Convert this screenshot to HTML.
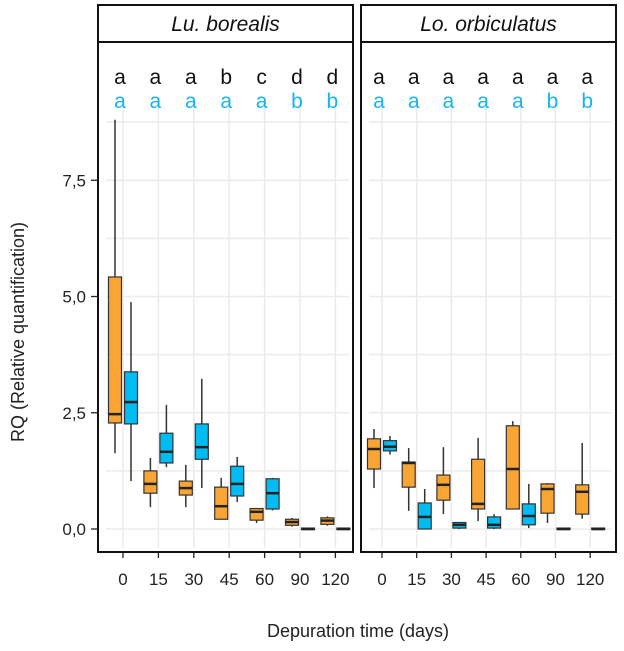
<!DOCTYPE html>
<html><head><meta charset="utf-8"><style>
body{margin:0;background:#fff;width:624px;height:646px;overflow:hidden;font-family:"Liberation Sans",sans-serif}
</style></head><body>
<svg id="chart" width="624" height="646" xmlns="http://www.w3.org/2000/svg"></svg>
<script>
const days=["0","15","30","45","60","90","120"];
const panelTitles=["Lu. borealis","Lo. orbiculatus"];
const lettersBlack1=["a","a","a","b","c","d","d"];
const lettersBlue1=["a","a","a","a","a","b","b"];
const lettersBlack2=["a","a","a","a","a","a","a"];
const lettersBlue2=["a","a","a","a","a","b","b"];
// [low, q1, median, q3, high]
const borealisOrange=[[1.63,2.28,2.47,5.42,8.8],[0.47,0.77,0.97,1.25,1.53],[0.47,0.73,0.88,1.03,1.38],[0.21,0.21,0.49,0.9,1.1],[0.13,0.19,0.37,0.44,0.45],[0.05,0.08,0.15,0.21,0.24],[0.07,0.1,0.18,0.24,0.27]];
const borealisBlue=[[1.03,2.26,2.73,3.38,4.88],[1.33,1.42,1.66,2.06,2.67],[0.88,1.5,1.76,2.26,3.23],[0.58,0.71,0.97,1.35,1.55],[0.4,0.43,0.77,1.08,1.1],[-0.02,-0.01,0.0,0.02,0.03],[-0.02,-0.01,0.0,0.02,0.03]];
const orbicOrange=[[0.88,1.29,1.72,1.94,2.15],[0.39,0.9,1.42,1.44,1.74],[0.32,0.62,0.95,1.16,1.76],[0.17,0.43,0.54,1.5,1.96],[0.43,0.43,1.29,2.22,2.32],[0.13,0.34,0.86,0.97,0.99],[0.22,0.32,0.8,0.95,1.85]];
const orbicBlue=[[1.6,1.68,1.77,1.9,2.0],[0,0,0.26,0.56,0.86],[0,0.02,0.09,0.14,0.15],[0,0.02,0.09,0.26,0.32],[0.02,0.09,0.28,0.54,0.97],[-0.02,-0.01,0.0,0.02,0.03],[-0.02,-0.01,0.0,0.02,0.03]];
const yTicks=[0,2.5,5,7.5];
const yTickLabels=["0,0","2,5","5,0","7,5"];

const NS="http://www.w3.org/2000/svg";
const svg=document.getElementById('chart');
function mk(tag,attrs,parent,text){const e=document.createElementNS(NS,tag);for(const k in attrs)e.setAttribute(k,attrs[k]);if(text!==undefined)e.textContent=text;(parent||svg).appendChild(e);return e;}
const yScale=v=>529-v*46.5;
const panels=[{x0:98,x1:353,first:123,step:35.4,o:borealisOrange,b:borealisBlue,lk:lettersBlack1,lb:lettersBlue1},
              {x0:361,x1:616,first:382,step:34.7,o:orbicOrange,b:orbicBlue,lk:lettersBlack2,lb:lettersBlue2}];
const panelTop=42,panelBottom=552;
function box(g,cx,d,fill,name){
  const w=13;
  const bg=mk('g',{},g);
  
  
  mk('line',{x1:cx,x2:cx,y1:yScale(d[4]),y2:yScale(d[0]),stroke:'#333','stroke-width':1.5},bg);
  mk('rect',{x:cx-w/2,y:yScale(d[3]),width:w,height:Math.max(1.5,yScale(d[1])-yScale(d[3])),fill:fill,stroke:'#333','stroke-width':1.2},bg);
  mk('line',{x1:cx-w/2,x2:cx+w/2,y1:yScale(d[2]),y2:yScale(d[2]),stroke:'#222','stroke-width':2.5},bg);
}
panels.forEach((p,pi)=>{
  const g=mk('g',{},svg);
  
  
  for(let v=0;v<=10;v+=1.25){const yy=yScale(v);if(yy<107)continue;mk('line',{x1:p.x0+8,x2:p.x1-4,y1:yy,y2:yy,stroke:'#ebebeb','stroke-width':1.5},g);}
  days.forEach((d,i)=>{const cx=p.first+i*p.step;mk('line',{x1:cx,x2:cx,y1:107,y2:panelBottom-4,stroke:'#ebebeb','stroke-width':1.5},g);});
  days.forEach((d,i)=>{
    const cx=p.first+i*p.step;
    box(g,cx-8,p.o[i],'#F9A533','box-orange-'+d);
    box(g,cx+8,p.b[i],'#00BCF2','box-blue-'+d);
    const t1=mk('text',{x:cx-3,y:84,'font-size':21,'text-anchor':'middle',fill:'#111'},g,p.lk[i]);
    
    
    const t2=mk('text',{x:cx-3,y:108,'font-size':21,'text-anchor':'middle',fill:'#18B4F0'},g,p.lb[i]);
    
    
    mk('line',{x1:cx,x2:cx,y1:panelBottom,y2:panelBottom+6,stroke:'#222','stroke-width':1.3},g);
    const tl=mk('text',{x:cx,y:585,'font-size':17,'text-anchor':'middle',fill:'#222'},g,d);
    
    
  });
  mk('rect',{x:p.x0,y:panelTop,width:p.x1-p.x0,height:panelBottom-panelTop,fill:'none',stroke:'#111','stroke-width':2},g);
  mk('rect',{x:p.x0,y:5,width:p.x1-p.x0,height:37,fill:'#fff',stroke:'#111','stroke-width':2},g);
  const st=mk('text',{x:(p.x0+p.x1)/2,y:31,'font-size':21,'font-style':'italic','text-anchor':'middle',fill:'#111'},g,panelTitles[pi]);
  
  
});
yTicks.forEach((v,i)=>{
  mk('line',{x1:91,x2:98,y1:yScale(v),y2:yScale(v),stroke:'#222','stroke-width':1.3});
  const t=mk('text',{x:86,y:yScale(v)+6,'font-size':17,'text-anchor':'end',fill:'#222'},svg,yTickLabels[i]);
  
  
});
const yt=mk('text',{x:0,y:0,'font-size':18,'text-anchor':'middle',fill:'#222',transform:'translate(24,332) rotate(-90)'},svg,'RQ (Relative quantification)');


const xt=mk('text',{x:358,y:637,'font-size':18,'text-anchor':'middle',fill:'#222'},svg,'Depuration time (days)');


</script>
</body></html>
